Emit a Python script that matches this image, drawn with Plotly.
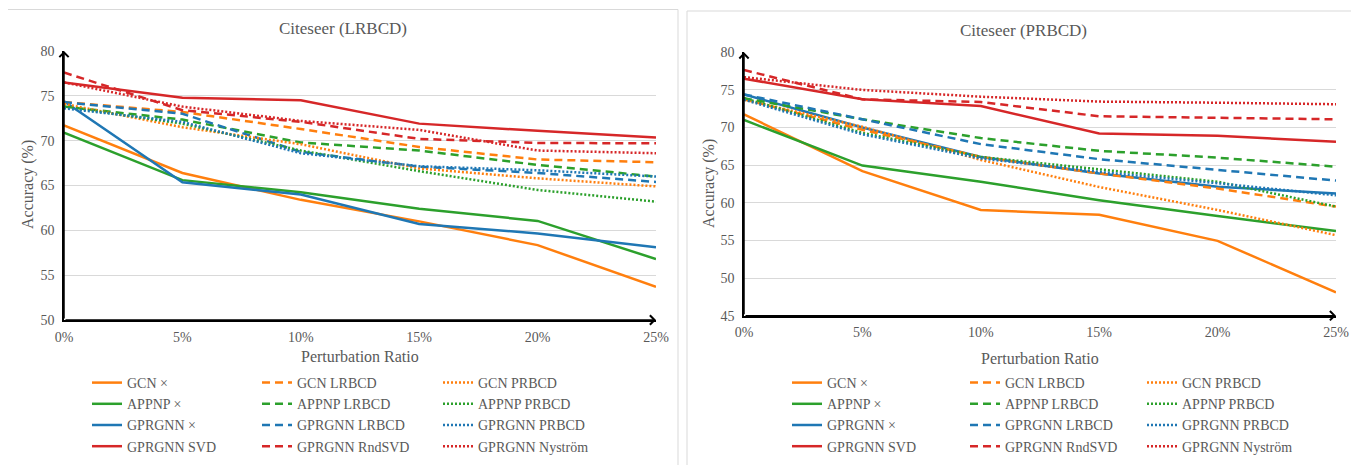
import plotly.graph_objects as go

# page is offset by the default 8px body margin, so the figure is 8px smaller
OFF = 8
W, H = 1359 - OFF, 465 - OFF

# ---------------- data ----------------
ratio = [0, 5, 10, 15, 20, 25]
ratio_labels = ["0%", "5%", "10%", "15%", "20%", "25%"]

series_names = [
    "GCN \u00d7", "APPNP \u00d7", "GPRGNN \u00d7", "GPRGNN SVD",
    "GCN LRBCD", "APPNP LRBCD", "GPRGNN LRBCD", "GPRGNN RndSVD",
    "GCN PRBCD", "APPNP PRBCD", "GPRGNN PRBCD", "GPRGNN Nystr\u00f6m",
]

# Citeseer (LRBCD)
lr_gcn_none = [71.7, 66.4, 63.4, 61.0, 58.35, 53.7]
lr_appnp_none = [70.9, 65.6, 64.25, 62.4, 61.05, 56.8]
lr_gprgnn_none = [74.4, 65.35, 64.0, 60.7, 59.65, 58.1]
lr_gprgnn_svd = [76.5, 74.8, 74.5, 71.9, 71.1, 70.35]
lr_gcn_lrbcd = [74.3, 73.2, 71.3, 69.3, 67.9, 67.6]
lr_appnp_lrbcd = [73.8, 72.35, 69.8, 68.9, 67.3, 66.0]
lr_gprgnn_lrbcd = [74.3, 73.0, 68.75, 67.1, 66.4, 65.4]
lr_gprgnn_rndsvd = [77.6, 73.4, 72.1, 70.2, 69.75, 69.7]
lr_gcn_prbcd = [74.1, 71.5, 69.6, 66.9, 65.8, 64.9]
lr_appnp_prbcd = [73.8, 71.9, 68.9, 66.6, 64.5, 63.2]
lr_gprgnn_prbcd = [73.6, 72.1, 68.6, 67.15, 66.7, 66.0]
lr_gprgnn_nystrom = [76.5, 73.8, 72.2, 71.2, 68.9, 68.6]

# Citeseer (PRBCD)
pr_gcn_none = [71.75, 64.2, 59.05, 58.4, 54.95, 48.1]
pr_appnp_none = [71.0, 64.95, 62.8, 60.35, 58.25, 56.25]
pr_gprgnn_none = [74.4, 70.0, 66.1, 63.9, 62.15, 61.25]
pr_gprgnn_svd = [76.5, 73.75, 72.85, 69.2, 68.9, 68.1]
pr_gcn_lrbcd = [73.75, 69.7, 66.1, 63.9, 61.9, 59.5]
pr_appnp_lrbcd = [73.9, 71.1, 68.6, 66.9, 66.0, 64.8]
pr_gprgnn_lrbcd = [74.4, 71.1, 67.8, 65.8, 64.4, 62.95]
pr_gprgnn_rndsvd = [77.65, 73.75, 73.4, 71.5, 71.3, 71.1]
pr_gcn_prbcd = [73.7, 70.1, 65.7, 62.1, 59.05, 55.7]
pr_appnp_prbcd = [73.9, 69.3, 66.1, 64.4, 62.8, 59.5]
pr_gprgnn_prbcd = [73.7, 69.1, 65.9, 64.1, 62.6, 61.0]
pr_gprgnn_nystrom = [76.7, 75.0, 74.1, 73.45, 73.3, 73.1]

lr_values = [lr_gcn_none, lr_appnp_none, lr_gprgnn_none, lr_gprgnn_svd,
             lr_gcn_lrbcd, lr_appnp_lrbcd, lr_gprgnn_lrbcd, lr_gprgnn_rndsvd,
             lr_gcn_prbcd, lr_appnp_prbcd, lr_gprgnn_prbcd, lr_gprgnn_nystrom]
pr_values = [pr_gcn_none, pr_appnp_none, pr_gprgnn_none, pr_gprgnn_svd,
             pr_gcn_lrbcd, pr_appnp_lrbcd, pr_gprgnn_lrbcd, pr_gprgnn_rndsvd,
             pr_gcn_prbcd, pr_appnp_prbcd, pr_gprgnn_prbcd, pr_gprgnn_nystrom]

# ---------------- styles ----------------
colors = ["#ff7f0e", "#2ca02c", "#1f77b4", "#d62728"]
dashes = ["solid", "8px,5px", "2px,2px"]
FONT = "Liberation Serif, Times New Roman, serif"
GREY = "#595959"


def px_x(p):  # page pixel -> paper fraction
    return (p - OFF) / W


def px_y(p):
    return 1 - (p - OFF) / H


fig = go.Figure()

panels = [
    dict(values=lr_values, xa="x", ya="y", legends=["legend", "legend2", "legend3"]),
    dict(values=pr_values, xa="x2", ya="y2", legends=["legend4", "legend5", "legend6"]),
]

for pnl in panels:
    for i, (name, vals) in enumerate(zip(series_names, pnl["values"])):
        col = i // 4
        row = i % 4
        fig.add_trace(go.Scatter(
            x=ratio, y=vals, name=name, mode="lines",
            line=dict(color=colors[row], width=2.5, dash=dashes[col]),
            xaxis=pnl["xa"], yaxis=pnl["ya"], legend=pnl["legends"][col],
        ))

axis_common = dict(
    tickfont=dict(family=FONT, size=14, color=GREY),
    showline=True, linecolor="black", linewidth=1.5,
    ticks="", zeroline=False,
)

fig.update_layout(
    width=W, height=H,
    margin=dict(l=0, r=0, t=0, b=0, autoexpand=False),
    paper_bgcolor="white", plot_bgcolor="white",
    font=dict(family=FONT, color=GREY),
    xaxis=dict(domain=[px_x(64), px_x(656)], range=[0, 25], tickvals=ratio, ticktext=ratio_labels,
               showgrid=False, anchor="y", ticklabelstandoff=3, **axis_common),
    yaxis=dict(domain=[px_y(320), px_y(51)], range=[50, 80], dtick=5, showgrid=True,
               gridcolor="#d9d9d9", gridwidth=1, anchor="x", ticklabelstandoff=5, **axis_common),
    xaxis2=dict(domain=[px_x(744), px_x(1336)], range=[0, 25], tickvals=ratio, ticktext=ratio_labels,
                showgrid=False, anchor="y2", ticklabelstandoff=3, **axis_common),
    yaxis2=dict(domain=[px_y(315.7), px_y(52.3)], range=[45, 80], dtick=5, showgrid=True,
                gridcolor="#d9d9d9", gridwidth=1, anchor="x2", ticklabelstandoff=5, **axis_common),
    showlegend=True,
)

legend_left = [87, 257, 438, 787, 965, 1142]
legend_ids = ["legend", "legend2", "legend3", "legend4", "legend5", "legend6"]
for lid, lx in zip(legend_ids, legend_left):
    fig.update_layout({lid: dict(
        x=px_x(lx), y=px_y(367), xanchor="left", yanchor="top",
        orientation="v", bgcolor="rgba(0,0,0,0)", borderwidth=0,
        font=dict(family=FONT, size=14, color=GREY), tracegroupgap=0,
        itemwidth=30,
    )})

# panel frames
for x0, x1, y0 in [(6, 678, 9.5), (687, 1358, 11)]:
    fig.add_shape(type="rect", xref="paper", yref="paper",
                  x0=px_x(x0), x1=px_x(x1), y0=px_y(y0), y1=px_y(470),
                  line=dict(color="#d9d9d9", width=1), fillcolor="rgba(0,0,0,0)", layer="below")

annotations = []
# titles
for txt, cx, cy in [("Citeseer (LRBCD)", 343, 28), ("Citeseer (PRBCD)", 1023, 30)]:
    annotations.append(dict(text=txt, x=px_x(cx), y=px_y(cy), xref="paper", yref="paper",
                            xanchor="center", yanchor="middle",
                            showarrow=False, font=dict(family=FONT, size=17, color=GREY)))
# axis titles
for cx, cy in [(360, 356), (1040, 358)]:
    annotations.append(dict(text="Perturbation Ratio", x=px_x(cx), y=px_y(cy), xref="paper", yref="paper",
                            xanchor="center", yanchor="middle",
                            showarrow=False, font=dict(family=FONT, size=16, color=GREY)))
for cx, cy in [(28, 185), (709, 184)]:
    annotations.append(dict(text="Accuracy (%)", x=px_x(cx), y=px_y(cy), xref="paper", yref="paper",
                            xanchor="center", yanchor="middle",
                            textangle=-90, showarrow=False, font=dict(family=FONT, size=16, color=GREY)))
# axis arrows
for xa, ya, ymin in [("x", "y", 50), ("x2", "y2", 45)]:
    annotations.append(dict(text="", x=25, y=ymin, ax=0, ay=ymin, xref=xa, yref=ya, axref=xa, ayref=ya,
                            showarrow=True, arrowhead=4, arrowsize=1.2, arrowwidth=1.5, arrowcolor="black",
                            font=dict(size=1)))
    annotations.append(dict(text="", x=0, y=80, ax=0, ay=ymin, xref=xa, yref=ya, axref=xa, ayref=ya,
                            showarrow=True, arrowhead=4, arrowsize=1.2, arrowwidth=1.5, arrowcolor="black",
                            font=dict(size=1)))
fig.update_layout(annotations=annotations)

fig.write_html("out.html")
